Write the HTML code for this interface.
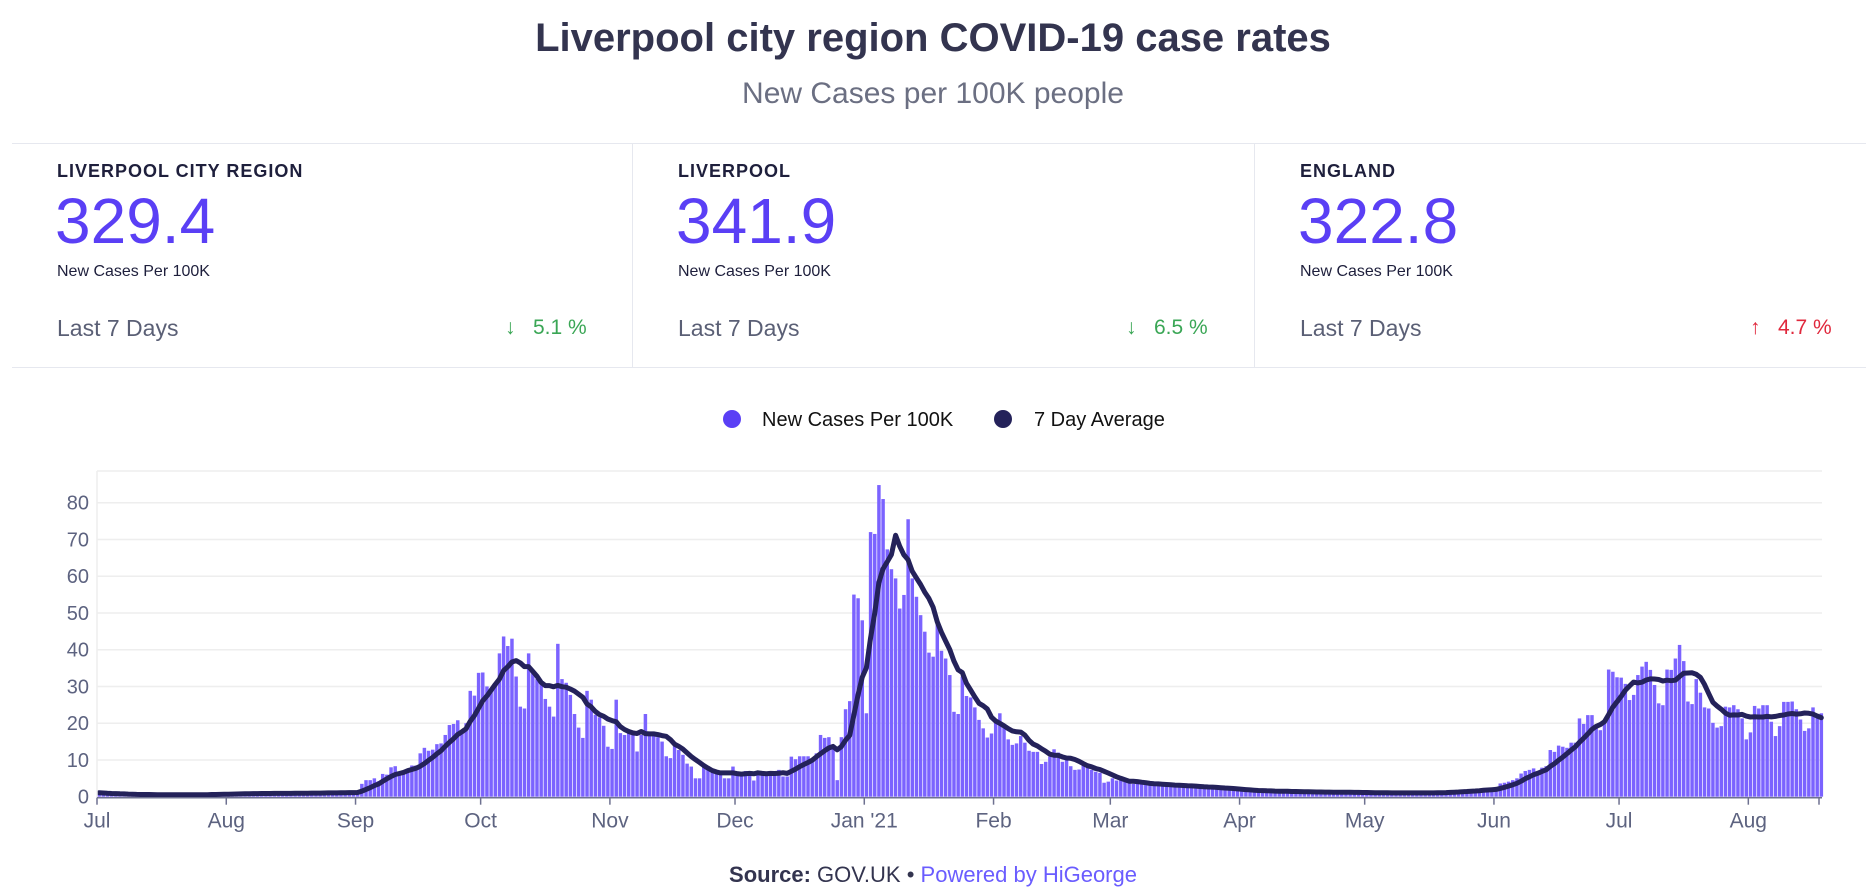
<!DOCTYPE html>
<html><head><meta charset="utf-8">
<style>
body{margin:0;width:1866px;height:894px;background:#fff;font-family:"Liberation Sans",sans-serif;overflow:hidden;position:relative}
.t{position:absolute;white-space:nowrap}
#title{left:0;width:1866px;text-align:center;top:16px;font-size:40px;font-weight:bold;color:#33344f}
#sub{left:0;width:1866px;text-align:center;top:77px;font-size:30px;color:#6b6f82}
.panel{position:absolute;top:143px;height:223px;border-top:1px solid #e6e8ef;border-bottom:1px solid #e6e8ef}
.lab{position:absolute;left:45px;top:17px;font-size:18px;font-weight:bold;letter-spacing:1px;color:#1e1f3c}
.num{position:absolute;left:43px;top:40px;font-size:64px;color:#5a3ff5}
.nc{position:absolute;left:45px;top:119px;font-size:16px;color:#1e1f3c}
.l7{position:absolute;left:45px;top:171px;font-size:23px;color:#5a5f75}
.chg{position:absolute;top:172px;font-size:21px}
</style></head><body>
<div class="t" id="title">Liverpool city region COVID-19 case rates</div>
<div class="t" id="sub">New Cases per 100K people</div>

<div class="panel" style="left:12px;width:620px;border-right:1px solid #e6e8ef">
<div class="lab">LIVERPOOL CITY REGION</div>
<div class="num">329.4</div>
<div class="nc">New Cases Per 100K</div>
<div class="l7">Last 7 Days</div>
<div class="chg" style="left:493px;color:#3aa655">↓&nbsp;&nbsp;&nbsp;5.1 %</div>
</div>
<div class="panel" style="left:633px;width:621px;border-right:1px solid #e6e8ef">
<div class="lab">LIVERPOOL</div>
<div class="num">341.9</div>
<div class="nc">New Cases Per 100K</div>
<div class="l7">Last 7 Days</div>
<div class="chg" style="left:493px;color:#3aa655">↓&nbsp;&nbsp;&nbsp;6.5 %</div>
</div>
<div class="panel" style="left:1255px;width:611px">
<div class="lab">ENGLAND</div>
<div class="num">322.8</div>
<div class="nc">New Cases Per 100K</div>
<div class="l7">Last 7 Days</div>
<div class="chg" style="left:495px;color:#e0283c">↑&nbsp;&nbsp;&nbsp;4.7 %</div>
</div>

<svg id="chart" width="1866" height="894" style="position:absolute;left:0;top:0">
<g id="legend">
<circle cx="732" cy="419" r="9" fill="#5a3ff5"/>
<text x="762" y="426" font-size="20" fill="#111">New Cases Per 100K</text>
<circle cx="1003" cy="419" r="9" fill="#24225a"/>
<text x="1034" y="426" font-size="20" fill="#111">7 Day Average</text>
</g>
<g id="grid"></g><g id="bars"></g><g id="line"></g><g id="axes"></g>
</svg>
<div class="t" style="left:0;width:1866px;text-align:center;top:862px;font-size:22px;color:#33344f"><b>Source:</b> GOV.UK • <span style="color:#6a5cff">Powered by HiGeorge</span></div>

<script>
const yTicks = [0,10,20,30,40,50,60,70,80];
const monthLabels = ["Jul","Aug","Sep","Oct","Nov","Dec","Jan '21","Feb","Mar","Apr","May","Jun","Jul","Aug"];
const monthOffsets = [0,31,62,92,123,153,184,215,243,274,304,335,365,396];
const jul20 = [1.1,0.9,0.8,0.7,0.7,0.6,0.6,0.7,0.6,0.5,0.5,0.6,0.6,0.5,0.5,0.6,0.5,0.5,0.6,0.5,0.5,0.5,0.6,0.5,0.6,0.6,0.6,0.7,0.6,0.7,0.7];
const aug20 = [0.8,0.8,0.8,0.9,0.8,0.9,0.9,0.9,0.9,0.8,0.9,0.9,0.9,0.9,1.0,0.9,0.9,1.0,1.0,1.0,1.0,1.0,1.0,1.1,1.1,1.0,1.1,1.2,1.1,1.2,1.2];
const sep20 = [1.2,3.5,4.5,4.5,5,4.2,6.2,6,8,8.3,6.5,7,7.5,8.5,8.5,11.8,13.3,12.5,12.8,14.3,14.5,16.8,19.5,19.8,20.8,18,20,28.8,27.5,33.7];
const oct20 = [33.8,30,29,31,39,43.6,41,43,32.7,24.5,24,39,34.5,32,31,26.6,24.5,21.8,41.6,32,31,27.7,22.5,18.8,16,28.8,26.4,22.3,21.6,19.3,13.6];
const nov20 = [13,26.4,17.3,16.8,17.7,16.8,12.3,16.8,22.5,16.8,16.8,16.2,15,11,10.5,13.8,12.7,11.4,9,8.2,5,5,8.2,7.7,6.8,6.4,6.2,5,5,8.2];
const dec20 = [6.4,5.9,7,6.8,4.4,6.8,7,5.9,6.4,6.8,7.3,5.5,5.5,10.9,10.2,11,11,11,10,11.8,16.8,16,16.2,14,4.5,16.2,23.8,26,55,54,48];
const jan21 = [22.7,72,71.5,84.8,81,67.3,61.9,59.4,51.2,54.9,75.5,59.4,54.4,49.4,44.9,39.2,38.1,47.6,39.7,37.6,33.1,23.1,22.5,32.7,27.4,27,24.3,20.9,18.6,16.1,17.2];
const feb21 = [20.1,22.7,19.5,15.6,14.1,14.5,16.5,14.7,12.5,12.2,12.2,8.9,9.5,10.9,12.9,12,9.5,10,8.3,7.3,7.4,8.6,8,7.3,6.8,6.5,3.8,4.1];
const mar21 = [5,4.4,4.5,4,3.8,3.5,3.6,3.8,3.5,3.2,3.3,3.4,3,3.1,3.2,2.9,3,2.8,2.7,2.9,2.6,2.5,2.4,2.6,2.5,2.2,2.3,2.1,2,1.9,1.8];
const apr21 = [1.8,1.7,1.6,1.6,1.5,1.6,1.5,1.5,1.4,1.4,1.5,1.4,1.3,1.4,1.3,1.3,1.2,1.3,1.2,1.2,1.3,1.2,1.2,1.1,1.2,1.2,1.1,1.2,1.1,1.1];
const may21 = [1.1,1.0,1.1,1.0,1.0,1.1,1.0,1.0,1.0,1.1,1.0,1.0,1.1,1.0,1.0,1.1,1.1,1.2,1.2,1.3,1.3,1.4,1.5,1.6,1.6,1.7,1.8,1.9,2.0,2.1,2.2];
const jun21 = [2.3,3.6,3.8,4.1,4.5,5,6.3,7,7.3,7.7,6.8,7.9,8.3,12.7,12.2,13.9,13.6,13.3,14.7,14.7,21.3,19.8,22.2,22.2,19,18.1,20.4,34.6,34,32.5];
const jul21 = [32.4,30.7,26.3,27.7,33.1,35.4,36.7,34.5,30.4,25.4,24.9,34.6,34.5,37.6,41.3,36.9,25.9,25.2,32,28.3,24.3,24,20.1,18.8,19.2,24.5,24.3,24.9,23.8,21.3,15.6];
const aug21 = [17.5,24.7,24,24.9,24.9,20.4,16.5,19.2,25.8,25.8,25.9,23.8,21,17.9,18.6,24.3,22.2,22.7];

const daily = [].concat(jul20,aug20,sep20,oct20,nov20,dec20,jan21,feb21,mar21,apr21,may21,jun21,jul21,aug21);
const avg7 = daily.map((v,i)=>{const s=daily.slice(Math.max(0,i-6),i+1);return s.reduce((a,b)=>a+b,0)/s.length;});

const X0=97, DAY=4.17, Y0=796.7, PXU=3.675, TOPY=471, RIGHT=1822;
const xs = d => X0 + d*DAY;
const ys = v => Y0 - v*PXU;
const NS='http://www.w3.org/2000/svg';
function mk(tag, attrs, parent){const e=document.createElementNS(NS,tag);for(const k in attrs)e.setAttribute(k,attrs[k]);parent.appendChild(e);return e;}

const grid=document.getElementById('grid');
const topLine=mk('line',{x1:X0,x2:RIGHT,y1:TOPY,y2:TOPY,stroke:'#eeeeee','stroke-width':1.5},grid);


yTicks.forEach(t=>{
  const g=mk('line',{x1:X0,x2:RIGHT,y1:ys(t),y2:ys(t),stroke:'#eeeeee','stroke-width':1.5},grid);
  
  
  const tx=mk('text',{x:89,y:ys(t)+7,'text-anchor':'end','font-size':20,fill:'#5d6380'},grid);
  tx.textContent=t;
  
  
});

const bars=document.getElementById('bars');
daily.forEach((v,i)=>{
  const r=mk('rect',{x:xs(i)+0.4,y:ys(v),width:DAY-0.7,height:Math.max(0,v*PXU),fill:'#7b63ff'},bars);
  
  
});

const lineG=document.getElementById('line');
const pts=avg7.map((v,i)=>(xs(i)+DAY/2).toFixed(1)+','+ys(v).toFixed(1)).join(' ');
const pl=mk('polyline',{points:pts,fill:'none',stroke:'#24225a','stroke-width':5,'stroke-linejoin':'round','stroke-linecap':'round'},lineG);



const axes=document.getElementById('axes');
const ya=mk('line',{x1:X0,x2:X0,y1:TOPY,y2:Y0+1,stroke:'#eeeeee','stroke-width':1.5},axes);


const xa=mk('line',{x1:X0,x2:RIGHT,y1:Y0+1,y2:Y0+1,stroke:'#6e7190','stroke-width':1.5},axes);


monthOffsets.forEach((d,i)=>{
  const tk=mk('line',{x1:xs(d),x2:xs(d),y1:Y0+1,y2:Y0+8,stroke:'#6e7190','stroke-width':1.5},axes);
  
  
  const tx=mk('text',{x:xs(d),y:Y0+31,'text-anchor':'middle','font-size':21,fill:'#5d6380'},axes);
  tx.textContent=monthLabels[i];
  
  
});
const endTk=mk('line',{x1:RIGHT-3,x2:RIGHT-3,y1:Y0+1,y2:Y0+8,stroke:'#6e7190','stroke-width':1.5},axes);


</script>
</body></html>
